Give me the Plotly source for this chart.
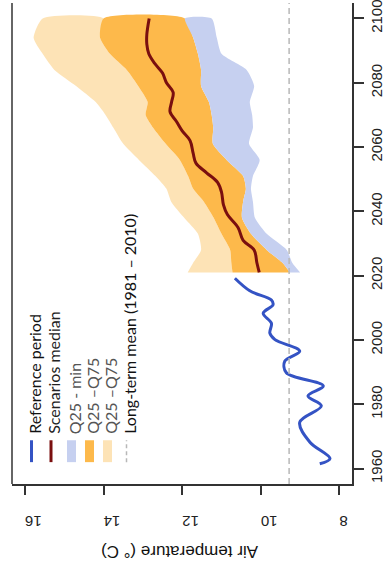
import plotly.graph_objects as go

# Observed air temperature, reference period (smoothed series)
ref_years = [1961.5, 1963.1, 1968.2, 1974.4, 1979.5, 1982.6, 1985.7, 1989.8, 1993.4,
             1996.5, 2000.1, 2002.1, 2005.2, 2008.3, 2010.9, 2012.4, 2015.3, 2019.2]
ref_temp = [8.50, 8.24, 8.75, 9.01, 8.46, 8.80, 8.41, 9.35, 9.39,
            9.01, 9.64, 9.77, 9.73, 9.94, 9.69, 9.73, 10.28, 10.66]

# Scenario envelope (projection period)
band_years = [2021, 2024, 2028, 2033, 2038, 2043, 2047, 2051, 2056, 2061,
              2066, 2070, 2074, 2079, 2084, 2089, 2094, 2100]
t_max = [11.86, 11.72, 11.52, 11.60, 11.95, 12.28, 12.40, 12.68, 13.10, 13.50,
         13.75, 13.95, 14.20, 14.70, 15.25, 15.55, 15.78, 15.55]
t_q75 = [10.72, 10.75, 10.78, 11.00, 11.20, 11.45, 11.72, 11.85, 12.06, 12.42,
         12.74, 12.93, 12.88, 13.12, 13.41, 13.84, 14.09, 14.00]
t_q25 = [9.26, 9.45, 9.85, 10.25, 10.48, 10.45, 10.38, 10.45, 10.87, 11.22,
         11.21, 11.25, 11.32, 11.52, 11.52, 11.60, 11.72, 11.93]
t_min = [9.00, 9.20, 9.34, 9.85, 10.15, 10.20, 10.25, 10.20, 10.03, 10.30,
         10.20, 10.22, 10.28, 10.17, 10.36, 11.00, 11.12, 11.25]

# Scenarios median
med_years = [2021, 2024, 2028, 2031, 2035, 2039, 2042, 2046, 2049, 2052, 2055, 2058,
             2062, 2065, 2068, 2071, 2074, 2077, 2080, 2083, 2086, 2089, 2092, 2095, 2100]
med_temp = [10.04, 10.10, 10.17, 10.45, 10.58, 10.85, 10.95, 11.00, 11.10, 11.38, 11.65, 11.72,
            11.80, 12.00, 12.15, 12.31, 12.27, 12.23, 12.40, 12.50, 12.70, 12.85, 12.90, 12.90, 12.84]

long_term_mean = 9.28

temp_ticks = [8, 10, 12, 14, 16]
year_ticks = [1960, 1980, 2000, 2020, 2040, 2060, 2080, 2100]

legend_labels = ["Reference period", "Scenarios median", "Q25 - min",
                 "Q25 \u2013Q75", "Q25 \u2013Q75", "Long-term mean (1981 \u2013 2010)"]

C_REF = "#3453c4"
C_MED = "#7a0f0f"
C_MIN = "#c6d0f0"
C_IQR = "#fdb94b"
C_MAX = "#fde3b6"
C_MEAN = "#b8b8b8"

X_RANGE = [16.33, 7.68]
Y_RANGE = [1955.2, 2104.8]

fig = go.Figure()


def band(lo, hi, color):
    fig.add_trace(go.Scatter(
        x=list(hi) + list(lo)[::-1],
        y=band_years + band_years[::-1],
        fill="toself", fillcolor=color, mode="lines",
        line=dict(width=0, color=color, shape="spline", smoothing=0.6),
        hoverinfo="skip", showlegend=False))


band(t_q75, t_max, C_MAX)
band(t_q25, t_q75, C_IQR)
band(t_min, t_q25, C_MIN)

fig.add_trace(go.Scatter(x=med_temp, y=med_years, mode="lines",
                         line=dict(color=C_MED, width=3, shape="spline"),
                         showlegend=False))
fig.add_trace(go.Scatter(x=ref_temp, y=ref_years, mode="lines",
                         line=dict(color=C_REF, width=3, shape="spline", smoothing=1.0),
                         showlegend=False))

# long-term mean
fig.add_shape(type="line", xref="x", yref="paper", x0=long_term_mean, x1=long_term_mean,
              y0=0, y1=1, line=dict(color=C_MEAN, width=1.5, dash="6px,4px"))

# frame
fig.add_shape(type="line", xref="paper", yref="paper", x0=0, x1=0, y0=0, y1=1,
              line=dict(color="#333", width=1.5))

# plot area in pixels
L, R, T, B = 12, 352, 0, 484


def dx(xp):
    """pixel column -> temperature axis value"""
    return X_RANGE[0] + (xp - L) / (R - L) * (X_RANGE[1] - X_RANGE[0])


def dy(yp):
    """pixel row -> year axis value"""
    return Y_RANGE[0] + (B - yp) / (B - T) * (Y_RANGE[1] - Y_RANGE[0])


# legend (drawn rotated)
sym_x = [31.5, 51, 71.5, 89.5, 107.5, 126.5]
sym_top, sym_bot = 440, 462
text_colors = ["#111", "#222", "#555", "#555", "#555", "#111"]
for i, lab in enumerate(legend_labels):
    cx = sym_x[i]
    if i in (0, 1):
        fig.add_shape(type="line", xref="x", yref="y",
                      x0=dx(cx), x1=dx(cx), y0=dy(sym_bot), y1=dy(sym_top),
                      line=dict(color=[C_REF, C_MED][i], width=3))
    elif i in (2, 3, 4):
        fig.add_shape(type="rect", xref="x", yref="y",
                      x0=dx(cx - 4.5), x1=dx(cx + 4.5), y0=dy(sym_bot), y1=dy(sym_top),
                      line=dict(width=0), fillcolor=[C_MIN, C_IQR, C_MAX][i - 2])
    else:
        fig.add_shape(type="line", xref="x", yref="y",
                      x0=dx(cx), x1=dx(cx), y0=dy(sym_bot), y1=dy(sym_top),
                      line=dict(color=C_MEAN, width=1.5, dash="4px,3px"))
    fig.add_annotation(text=lab, textangle=-90, xref="x", yref="y",
                       x=dx(cx + 3), y=dy(436), xanchor="center", yanchor="bottom",
                       showarrow=False,
                       font=dict(family="Lato", size=16, color=text_colors[i]))

# axis title, upside down
fig.add_annotation(text="Air temperature (\u00b0 C)", textangle=180,
                   xref="paper", yref="paper", x=(180 - L) / (R - L), y=(B - 552) / (B - T),
                   xanchor="center", yanchor="middle", showarrow=False,
                   font=dict(family="Liberation Sans", size=17, color="#111"))

fig.update_layout(
    width=390, height=579,
    margin=dict(l=L, r=390 - R, t=T, b=579 - B),
    paper_bgcolor="white", plot_bgcolor="white",
    xaxis=dict(range=X_RANGE, tickvals=temp_ticks, ticktext=[str(t) for t in temp_ticks],
               tickangle=180, ticks="outside", ticklen=9, tickwidth=1.5, tickcolor="#333",
               ticklabelstandoff=18,
               showline=True, linecolor="#333", linewidth=1.5, showgrid=False, zeroline=False,
               tickfont=dict(family="Liberation Sans", size=15, color="#222")),
    yaxis=dict(range=Y_RANGE, side="right", tickvals=year_ticks,
               tickangle=-90, ticks="outside", ticklen=10, tickwidth=1.5, tickcolor="#333",
               showline=True, linecolor="#333", linewidth=1.5, showgrid=False, zeroline=False,
               ticklabeloverflow="allow",
               tickfont=dict(family="Liberation Sans", size=15, color="#222")),
    showlegend=False,
)

fig.write_html("out.html")
